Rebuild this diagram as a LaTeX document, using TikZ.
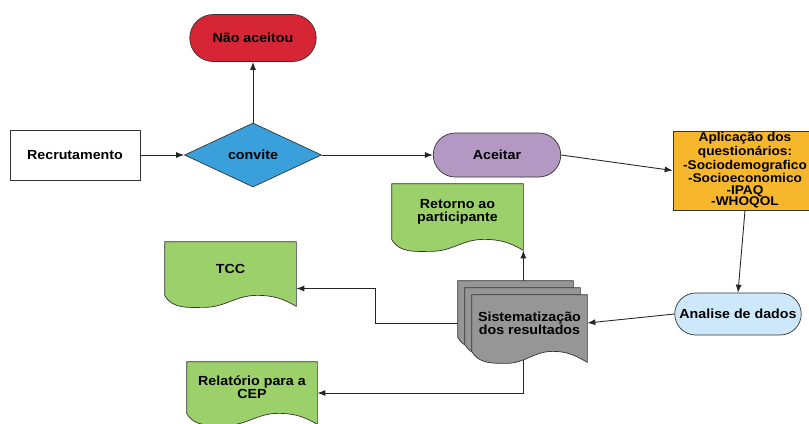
\documentclass[tikz,border=0pt]{standalone}
\usepackage{fontspec}
\setmainfont{Liberation Sans}[FakeStretch=1.08]
\usepackage{xcolor}
\usepackage{tikz}
\usetikzlibrary{arrows.meta,positioning,calc,shapes.geometric,shapes.misc,backgrounds}

\definecolor{cred}{RGB}{214,38,54}
\definecolor{cblue}{RGB}{57,160,219}
\definecolor{clilac}{RGB}{180,152,196}
\definecolor{corange}{RGB}{247,183,44}
\definecolor{clight}{RGB}{204,232,250}
\definecolor{cgreen}{RGB}{156,208,106}
\definecolor{cgray}{RGB}{150,150,150}

% document outline with wavy bottom, behind the node text
\newcommand{\docshape}[2]{%
  \begin{pgfonlayer}{background}
  \filldraw[docline,fill=#2] (#1.south west) -- (#1.north west) -- (#1.north east)
    -- ($(#1.south east)+(0,-0.22)$)
    to[out=150,in=0] ($(#1.south west)!0.7!(#1.south east)$)
    to[out=180,in=0] ($(#1.south west)!0.3!(#1.south east)+(0,-0.24)$)
    to[out=180,in=-60] (#1.south west) -- cycle;
  \end{pgfonlayer}}

\begin{document}
\begin{tikzpicture}[
  every node/.style={font=\fontsize{7.5}{7.5}\selectfont\bfseries},
  nd/.style={draw=black!80,thin,align=center,inner sep=1pt},
  term/.style={nd,rounded rectangle,minimum width=2.6cm},
  docbody/.style={align=center,inner sep=1pt},
  docline/.style={draw=black!80,thin},
  arr/.style={draw=black!85,line width=0.5pt,-{Latex[length=1.6mm,width=1.2mm]}}]
 \useasboundingbox (0,0) rectangle (16.18,-8.48);
 \node[term,fill=cred,minimum height=0.94cm] (nao) at (5.06,-0.76) {Não aceitou};
 \node[nd,fill=white,minimum width=2.6cm,minimum height=1cm] (recr) at (1.5,-3.1) {Recrutamento};
 \node[nd,diamond,fill=cblue,minimum width=2.74cm,minimum height=1.28cm,inner sep=0pt] (conv) at (5.06,-3.1) {convite};
 \node[term,fill=clilac,minimum width=2.62cm,minimum height=0.88cm] (acei) at (9.94,-3.1) {Aceitar};
 \node[nd,fill=corange,minimum width=2.88cm,minimum height=1.5cm,
   font=\fontsize{7.2}{6.6}\selectfont\bfseries] (apli) at (14.9,-3.41)
   {Aplicação dos\\questionários:\\-Sociodemografico\\-Socioeconomico\\-IPAQ\\-WHOQOL};
 \node[term,fill=clight,minimum height=0.84cm] (anal) at (14.76,-6.28) {Analise de dados};
 % documents
 \node[docbody,minimum width=2.3cm,minimum height=1.12cm] (sist) at (10.59,-6.46) {Sistematização\\dos resultados};
 \node[docbody,minimum width=2.3cm,minimum height=1.12cm] (sist2) at ([shift={(-0.14,0.14)}]sist.center) {};
 \node[docbody,minimum width=2.3cm,minimum height=1.12cm] (sist3) at ([shift={(-0.28,0.28)}]sist.center) {};
 \node[docbody,minimum width=2.62cm,minimum height=1.1cm] (reto) at (9.15,-4.23) {Retorno ao\\participante};
 \node[docbody,minimum width=2.62cm,minimum height=1.06cm] (tcc) at (4.61,-5.37) {TCC};
 \node[docbody,minimum width=2.6cm,minimum height=1.02cm] (rel) at (5.04,-7.75) {Relatório para a\\CEP};
 \docshape{sist3}{cgray}
 \docshape{sist2}{cgray}
 \docshape{sist}{cgray}
 \docshape{reto}{cgreen}
 \docshape{tcc}{cgreen}
 \docshape{rel}{cgreen}
 % connectors
 \coordinate (retoc) at ([yshift=-0.22cm]reto.south east);
 \coordinate (tccin) at ([yshift=-0.4cm]tcc.east);
 \coordinate (relin) at ([yshift=-0.11cm]rel.east);
 \coordinate (sistout) at ([yshift=-0.17cm]sist.south -| retoc);
 \foreach \a/\b in {recr.east/conv.west,conv.north/nao.south,conv.east/acei.west,
   acei.east/apli.west,apli.south/anal.north,anal.west/sist.east}
   \draw[arr] (\a)--(\b);
 \draw[arr] (sist3.north -| retoc) -- (retoc);
 \draw[arr] (sist3.west |- sist.west) -- ++(-1.64,0) |- (tccin);
 \draw[arr] (sistout) |- (relin);
\end{tikzpicture}
\end{document}
